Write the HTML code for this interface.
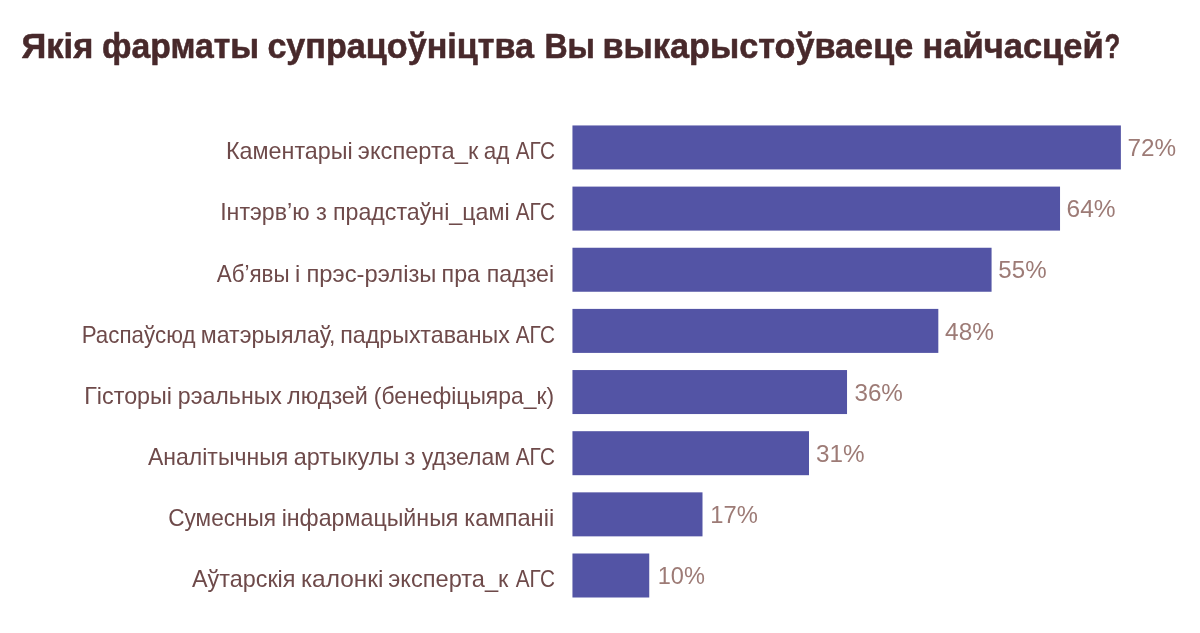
<!DOCTYPE html>
<html lang="be"><head><meta charset="utf-8"><title>Якія фарматы супрацоўніцтва Вы выкарыстоўваеце найчасцей?</title>
<style>
html,body{margin:0;padding:0;background:#fff;}
body{width:1200px;height:633px;overflow:hidden;}
svg{display:block;}
text{font-family:"Liberation Sans","DejaVu Sans",sans-serif;white-space:pre;}
.t{font-weight:bold;font-size:35px;fill:#48292b;stroke:#48292b;stroke-width:0.55px;stroke-linejoin:round;}
.l{font-size:23.6px;fill:#6e4a4a;}
.v{font-size:24.8px;fill:#9d7b76;}
.b{fill:#5354a5;}
</style></head><body>
<svg width="1200" height="633" viewBox="0 0 1200 633">
<rect width="1200" height="633" fill="#ffffff"/>
<rect class="b" x="572.45" y="125.45" width="548.43" height="44.0"/>
<rect class="b" x="572.45" y="186.60" width="487.58" height="44.0"/>
<rect class="b" x="572.45" y="247.75" width="419.12" height="44.0"/>
<rect class="b" x="572.45" y="308.90" width="365.87" height="44.0"/>
<rect class="b" x="572.45" y="370.05" width="274.58" height="44.0"/>
<rect class="b" x="572.45" y="431.20" width="236.55" height="44.0"/>
<rect class="b" x="572.45" y="492.35" width="130.05" height="44.0"/>
<rect class="b" x="572.45" y="553.50" width="76.80" height="44.0"/>
<text class="t" x="21.56" y="58.00" textLength="71.78" lengthAdjust="spacingAndGlyphs">Якія</text>
<text class="t" x="102.05" y="58.00" textLength="157.03" lengthAdjust="spacingAndGlyphs">фарматы</text>
<text class="t" x="267.38" y="58.00" textLength="266.61" lengthAdjust="spacingAndGlyphs">супрацоўніцтва</text>
<text class="t" x="544.44" y="58.00" textLength="50.51" lengthAdjust="spacingAndGlyphs">Вы</text>
<text class="t" x="602.52" y="58.00" textLength="310.72" lengthAdjust="spacingAndGlyphs">выкарыстоўваеце</text>
<text class="t" x="922.47" y="58.00" textLength="181.18" lengthAdjust="spacingAndGlyphs">найчасцей</text>
<text class="t" x="1104.60" y="58.00" textLength="15.73" lengthAdjust="spacingAndGlyphs">?</text>
<text class="l" x="226.00" y="159.00" textLength="126.69" lengthAdjust="spacingAndGlyphs">Каментарыі</text>
<text class="l" x="357.88" y="159.00" textLength="120.38" lengthAdjust="spacingAndGlyphs">эксперта_к</text>
<text class="l" x="483.87" y="159.00" textLength="25.61" lengthAdjust="spacingAndGlyphs">ад</text>
<text class="l" x="515.76" y="159.00" textLength="39.12" lengthAdjust="spacingAndGlyphs">АГС</text>
<text class="v" x="1127.51" y="156.00" textLength="48.63" lengthAdjust="spacingAndGlyphs">72%</text>
<text class="l" x="220.16" y="220.00" textLength="89.37" lengthAdjust="spacingAndGlyphs">Інтэрв’ю</text>
<text class="l" x="316.02" y="220.00" textLength="10.90" lengthAdjust="spacingAndGlyphs">з</text>
<text class="l" x="332.91" y="220.00" textLength="176.72" lengthAdjust="spacingAndGlyphs">прадстаўні_цамі</text>
<text class="l" x="515.76" y="220.00" textLength="39.12" lengthAdjust="spacingAndGlyphs">АГС</text>
<text class="v" x="1066.60" y="217.00" textLength="49.03" lengthAdjust="spacingAndGlyphs">64%</text>
<text class="l" x="216.72" y="282.00" textLength="72.85" lengthAdjust="spacingAndGlyphs">Аб’явы</text>
<text class="l" x="295.03" y="282.00">і</text>
<text class="l" x="306.43" y="282.00" textLength="130.06" lengthAdjust="spacingAndGlyphs">прэс-рэлізы</text>
<text class="l" x="441.55" y="282.00" textLength="38.47" lengthAdjust="spacingAndGlyphs">пра</text>
<text class="l" x="486.83" y="282.00" textLength="67.30" lengthAdjust="spacingAndGlyphs">падзеі</text>
<text class="v" x="998.36" y="278.00" textLength="48.19" lengthAdjust="spacingAndGlyphs">55%</text>
<text class="l" x="81.67" y="343.00" textLength="113.93" lengthAdjust="spacingAndGlyphs">Распаўсюд</text>
<text class="l" x="200.82" y="343.00" textLength="134.69" lengthAdjust="spacingAndGlyphs">матэрыялаў,</text>
<text class="l" x="340.25" y="343.00" textLength="169.58" lengthAdjust="spacingAndGlyphs">падрыхтаваных</text>
<text class="l" x="515.76" y="343.00" textLength="39.12" lengthAdjust="spacingAndGlyphs">АГС</text>
<text class="v" x="945.07" y="340.00" textLength="48.88" lengthAdjust="spacingAndGlyphs">48%</text>
<text class="l" x="84.23" y="404.00" textLength="87.85" lengthAdjust="spacingAndGlyphs">Гісторыі</text>
<text class="l" x="177.78" y="404.00" textLength="104.20" lengthAdjust="spacingAndGlyphs">рэальных</text>
<text class="l" x="287.03" y="404.00" textLength="80.94" lengthAdjust="spacingAndGlyphs">людзей</text>
<text class="l" x="373.83" y="404.00" textLength="180.26" lengthAdjust="spacingAndGlyphs">(бенефіцыяра_к)</text>
<text class="v" x="854.41" y="401.00" textLength="48.49" lengthAdjust="spacingAndGlyphs">36%</text>
<text class="l" x="147.97" y="465.00" textLength="140.20" lengthAdjust="spacingAndGlyphs">Аналітычныя</text>
<text class="l" x="293.77" y="465.00" textLength="105.52" lengthAdjust="spacingAndGlyphs">артыкулы</text>
<text class="l" x="404.58" y="465.00" textLength="10.75" lengthAdjust="spacingAndGlyphs">з</text>
<text class="l" x="421.65" y="465.00" textLength="88.47" lengthAdjust="spacingAndGlyphs">удзелам</text>
<text class="l" x="515.76" y="465.00" textLength="39.12" lengthAdjust="spacingAndGlyphs">АГС</text>
<text class="v" x="815.97" y="462.00" textLength="48.55" lengthAdjust="spacingAndGlyphs">31%</text>
<text class="l" x="168.24" y="526.00" textLength="107.83" lengthAdjust="spacingAndGlyphs">Сумесныя</text>
<text class="l" x="281.65" y="526.00" textLength="176.77" lengthAdjust="spacingAndGlyphs">інфармацыйныя</text>
<text class="l" x="464.36" y="526.00" textLength="89.83" lengthAdjust="spacingAndGlyphs">кампаніі</text>
<text class="v" x="710.37" y="523.00" textLength="47.55" lengthAdjust="spacingAndGlyphs">17%</text>
<text class="l" x="191.95" y="587.00" textLength="103.56" lengthAdjust="spacingAndGlyphs">Аўтарскія</text>
<text class="l" x="300.90" y="587.00" textLength="82.44" lengthAdjust="spacingAndGlyphs">калонкі</text>
<text class="l" x="388.31" y="587.00" textLength="120.05" lengthAdjust="spacingAndGlyphs">эксперта_к</text>
<text class="l" x="515.76" y="587.00" textLength="39.12" lengthAdjust="spacingAndGlyphs">АГС</text>
<text class="v" x="657.69" y="584.00" textLength="47.15" lengthAdjust="spacingAndGlyphs">10%</text>
</svg>
</body></html>
